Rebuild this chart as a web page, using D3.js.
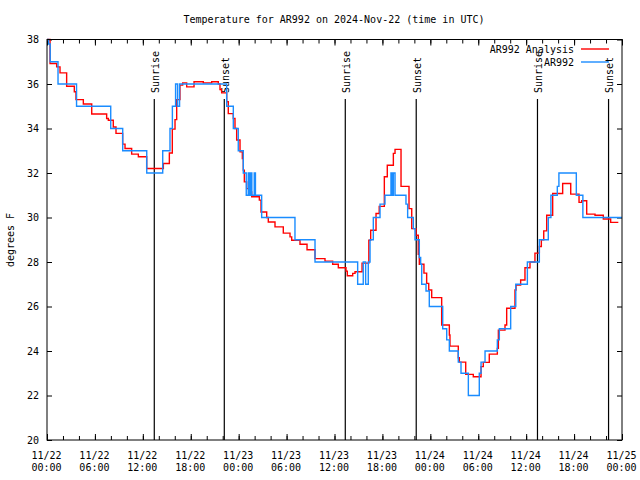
<!DOCTYPE html>
<html><head><meta charset="utf-8">
<script src="https://cdn.jsdelivr.net/npm/d3@7"></script>
<style>
body{margin:0;background:#fff}
svg{display:block;background:#fff}
text{font-family:"DejaVu Sans Mono",monospace;font-size:10px;fill:#000}
</style>
</head><body>
<svg id="chart" width="640" height="480"></svg>
<script>
// ---- data (hours since 2024-11-22 00:00 UTC) ----
const startTime = Date.UTC(2024, 10, 22, 0, 0);
const endTime = Date.UTC(2024, 10, 25, 0, 0);

const analysisHours = [0, 0.38, 1.21, 1.63, 2.46, 3.42, 3.63, 4.55, 5.6, 7.47, 7.68, 8.3, 8.64, 9.47, 9.77, 10.6, 11.44, 12.48, 14.57, 15.32, 15.69, 16.03, 16.24, 16.65, 16.99, 17.49, 18.41, 19.57, 20.62, 21.45, 21.66, 21.87, 22.5, 22.7, 23.33, 23.54, 23.75, 24.17, 24.46, 24.58, 24.71, 25.0, 25.42, 25.63, 26.59, 26.8, 27.51, 27.71, 28.55, 29.59, 30.43, 30.64, 31.68, 32.56, 33.56, 34.81, 35.77, 36.48, 37.44, 37.6, 38.28, 38.57, 39.45, 40.3, 40.53, 41.2, 41.6, 42.24, 42.61, 43.37, 43.58, 44.33, 45.33, 45.67, 46.21, 46.49, 46.62, 47.2, 47.54, 47.8, 48.17, 49.42, 50.38, 50.46, 51.5, 51.63, 52.43, 53.38, 54.35, 54.63, 55.38, 56.39, 56.52, 57.35, 57.56, 58.6, 58.73, 59.31, 59.85, 60.48, 61.1, 61.65, 61.9, 62.2, 62.57, 63.32, 64.57, 65.58, 66.62, 66.95, 67.58, 68.62, 69.66, 70.58, 71.54];
const analysisTemps = [38, 36.92, 36.77, 36.5, 35.9, 35.65, 35.3, 35.1, 34.65, 34.45, 34.37, 34.07, 33.78, 33.3, 33.1, 32.85, 32.73, 32.2, 32.43, 32.9, 33.97, 34.4, 35.3, 35.95, 36.05, 35.87, 36.1, 36.05, 36.1, 36.0, 35.75, 35.6, 35.2, 34.67, 34.45, 34.0, 33.48, 32.95, 32.65, 32.13, 31.6, 31.3, 31.15, 30.93, 30.78, 30.25, 30.0, 29.8, 29.58, 29.3, 29.13, 28.98, 28.8, 28.55, 28.15, 28.04, 27.9, 27.74, 27.59, 27.38, 27.49, 27.56, 27.95, 28.98, 29.43, 30.18, 30.5, 31.83, 32.35, 32.88, 33.06, 31.4, 30.4, 29.5, 29.2, 28.35, 27.9, 27.5, 27.04, 26.74, 26.4, 25.17, 24.72, 24.22, 23.7, 23.5, 22.95, 22.84, 23.3, 23.49, 23.86, 24.12, 24.94, 25.17, 25.92, 26.74, 26.96, 27.19, 27.74, 28.0, 28.4, 28.7, 29.0, 29.4, 30.1, 31.08, 31.53, 31.05, 30.68, 30.75, 30.15, 30.1, 29.93, 29.78, 29.78];

const stationHours = [0, 0.2, 0.4, 1.38, 3.7, 7.98, 9.48, 12.49, 14.49, 15.4, 15.7, 16.1, 16.35, 16.6, 22.5, 23.33, 23.95, 24.58, 24.95, 25.2, 25.35, 25.5, 25.65, 25.95, 26.1, 26.88, 31.05, 33.56, 38.9, 39.6, 39.9, 40.23, 40.45, 40.86, 41.7, 42.32, 43.07, 43.24, 43.37, 43.58, 44.95, 45.16, 45.87, 46.08, 46.62, 46.79, 46.92, 47.46, 47.87, 49.55, 50.05, 50.38, 51.5, 51.84, 52.76, 54.13, 54.35, 54.85, 56.39, 56.64, 58.06, 58.7, 60.15, 61.65, 62.77, 63.1, 63.9, 64.1, 66.28, 67.1, 72];
const stationTemps = [38, 37.8, 37, 36, 35, 34, 33, 32, 33, 34, 35, 36, 35, 36, 35, 34, 33, 32, 31, 32, 31, 32, 31, 32, 31, 30, 29, 28, 27, 28, 27, 28, 29, 30, 30.6, 31, 32, 31, 32, 31, 30.6, 30, 29.5, 29, 28.2, 27.9, 27, 26.7, 26, 25, 24.5, 24, 23.5, 23, 22, 23, 23.5, 24, 24.5, 25, 26, 27, 28, 29, 30, 31, 31.4, 32, 31, 30, 30];

const sunriseTimes = ["2024-11-22T13:26:00Z", "2024-11-23T13:21:00Z", "2024-11-24T13:25:00Z"];
const sunsetTimes = ["2024-11-22T22:12:00Z", "2024-11-23T22:14:00Z", "2024-11-24T22:19:00Z"];

const yTickValues = [20, 22, 24, 26, 28, 30, 32, 34, 36, 38];
const seriesNames = ["AR992 Analysis", "AR992"];
const seriesColors = ["#ff0000", "#1a8cff"];
const titleText = "Temperature for AR992 on 2024-Nov-22 (time in UTC)";
const yLabelText = "degrees F";

// ---- layout ----
const svg = d3.select("#chart");
const L = 47, R = 622, T = 39.5, B = 440;

const x = d3.scaleUtc().domain([new Date(startTime), new Date(endTime)]).range([L, R]);
const y = d3.scaleLinear().domain([20, 38]).range([B, T]);

const toDate = h => new Date(startTime + h * 3600e3);
const analysis = analysisHours.map((h, i) => ({t: toDate(h), v: analysisTemps[i]}));
const station = stationHours.map((h, i) => ({t: toDate(h), v: stationTemps[i]}));

const majorTicks = d3.utcHour.every(6).range(new Date(startTime), new Date(endTime + 1));
const minorTicks = d3.utcHour.every(2).range(new Date(startTime), new Date(endTime + 1));

// minor ticks bottom & top
svg.append("g").attr("transform", `translate(0,${B})`)
  .call(d3.axisBottom(x).tickValues(minorTicks).tickSize(-4).tickFormat(""))
  .call(g => g.select(".domain").remove())
  .call(g => g.selectAll("line").attr("stroke", "#000"));
svg.append("g").attr("transform", `translate(0,${T})`)
  .call(d3.axisTop(x).tickValues(minorTicks).tickSize(-4).tickFormat(""))
  .call(g => g.select(".domain").remove())
  .call(g => g.selectAll("line").attr("stroke", "#000"));

// major ticks + labels bottom
const fmtD = d3.utcFormat("%m/%d"), fmtT = d3.utcFormat("%H:%M");
const xb = svg.append("g").attr("transform", `translate(0,${B})`)
  .call(d3.axisBottom(x).tickValues(majorTicks).tickSize(-6).tickFormat(""))
  .call(g => g.select(".domain").remove())
  .call(g => g.selectAll("line").attr("stroke", "#000"));
xb.selectAll(".tick").each(function(d) {
  const t = d3.select(this).append("text").attr("text-anchor", "middle")
    .style("font-family", '"DejaVu Sans Mono",monospace').style("font-size", "10px").attr("fill", "#000");
  t.append("tspan").attr("x", -1).attr("y", 19).text(fmtD(d));
  t.append("tspan").attr("x", -1).attr("y", 31).text(fmtT(d));
});
svg.append("g").attr("transform", `translate(0,${T})`)
  .call(d3.axisTop(x).tickValues(majorTicks).tickSize(-6).tickFormat(""))
  .call(g => g.select(".domain").remove())
  .call(g => g.selectAll("line").attr("stroke", "#000"));

// y axes
svg.append("g").attr("transform", `translate(${L},0)`)
  .call(d3.axisLeft(y).tickValues(yTickValues).tickSize(-5).tickPadding(8).tickFormat(d3.format("d")))
  .call(g => g.select(".domain").remove())
  .call(g => g.selectAll("line").attr("stroke", "#000"))
  .call(g => g.selectAll("text").style("font-family", '"DejaVu Sans Mono",monospace').style("font-size", "10px").attr("fill", "#000"));
svg.append("g").attr("transform", `translate(${R},0)`)
  .call(d3.axisRight(y).tickValues(yTickValues).tickSize(-5).tickFormat(""))
  .call(g => g.select(".domain").remove())
  .call(g => g.selectAll("line").attr("stroke", "#000"));

// sunrise / sunset markers
const events = sunriseTimes.map(s => ({t: new Date(s), label: "Sunrise"}))
  .concat(sunsetTimes.map(s => ({t: new Date(s), label: "Sunset"})));
const ev = svg.append("g");
ev.selectAll("line").data(events).join("line")
  .attr("x1", d => x(d.t)).attr("x2", d => x(d.t))
  .attr("y1", 99).attr("y2", B)
  .attr("stroke", "#000").attr("stroke-width", 1.2);
ev.selectAll("text").data(events).join("text")
  .attr("transform", d => `translate(${x(d.t) + 4.5},93) rotate(-90)`)
  .text(d => d.label);

// series
const line = d3.line().x(d => x(d.t)).y(d => y(d.v)).curve(d3.curveStepAfter);
svg.append("path").datum(analysis).attr("d", line)
  .attr("fill", "none").attr("stroke", seriesColors[0]).attr("stroke-width", 1.4);
svg.append("path").datum(station).attr("d", line)
  .attr("fill", "none").attr("stroke", seriesColors[1]).attr("stroke-width", 1.4);

// frame
svg.append("rect").attr("x", L).attr("y", T).attr("width", R - L).attr("height", B - T)
  .attr("fill", "none").attr("stroke", "#000").attr("stroke-width", 1);

// legend
const leg = svg.append("g");
seriesNames.forEach((name, i) => {
  const ly = 49 + i * 13;
  leg.append("text").attr("x", 574).attr("y", ly + 4).attr("text-anchor", "end").text(name);
  leg.append("line").attr("x1", 581).attr("x2", 609).attr("y1", ly).attr("y2", ly)
    .attr("stroke", seriesColors[i]).attr("stroke-width", 1.4);
});

// title & y label
svg.append("text").attr("x", 334).attr("y", 23).attr("text-anchor", "middle").text(titleText);
svg.append("text").attr("transform", "translate(14,240) rotate(-90)").attr("text-anchor", "middle").text(yLabelText);
</script>
</body></html>
